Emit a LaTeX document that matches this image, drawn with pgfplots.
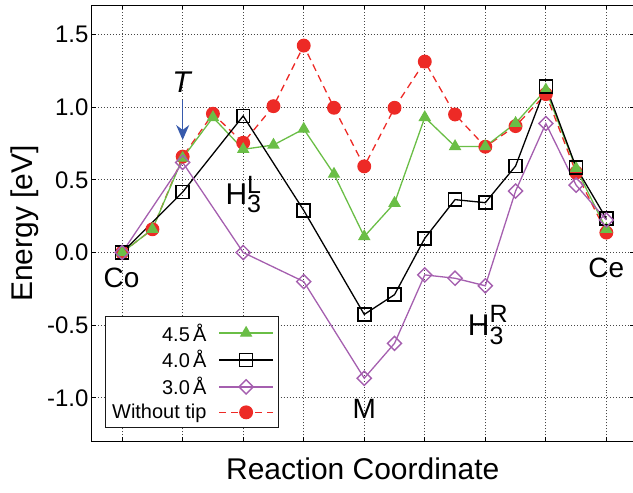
\documentclass[border=0pt]{standalone}
\usepackage{pgfplots}
\pgfplotsset{compat=1.18}
\usepackage{fontspec}
\setmainfont{Liberation Sans}
\usetikzlibrary{arrows.meta}
\definecolor{cgreen}{RGB}{106,190,70}
\definecolor{cred}{RGB}{237,42,38}
\definecolor{cpurple}{RGB}{165,95,175}
\definecolor{cblue}{RGB}{55,90,172}
\definecolor{cgrid}{RGB}{70,70,70}
\newcommand{\Hlab}[2]{H\makebox[0pt][l]{\raisebox{#2}{\fontsize{25}{25}\selectfont #1}}\raisebox{-8.3pt}{\fontsize{25}{25}\selectfont 3}}
\begin{document}
\begin{tikzpicture}
\begin{axis}[
  scale only axis, width=542.4pt, height=436.5pt,
  xmin=-0.5, xmax=8.45, ymin=-1.3, ymax=1.7,
  xtick={0,1,2,3,4,5,6,7,8}, xticklabels={},
  ytick={-1,-0.5,0,0.5,1,1.5}, yticklabels={-1.0,-0.5,0.0,0.5,1.0,1.5},
  tick align=inside, major tick length=4pt,
  grid=major, grid style={cgrid, line width=0.8pt, dash pattern=on 1pt off 2pt},
  axis line style={line width=1.2pt},
  tick style={black, line width=0.8pt},
  ticklabel style={font=\fontsize{24}{28}\selectfont},
  label style={font=\fontsize{30}{34}\selectfont},
  xlabel={Reaction Coordinate},
  ylabel={Energy [eV]},
  xlabel style={at={(axis description cs:0.5,-0.062)}, anchor=center},
  ylabel style={at={(axis description cs:-0.1235,0.5)}, anchor=center},
  legend style={at={(axis description cs:0.0234,0.031)}, anchor=south west,
    draw=black!90, line width=1.2pt, font=\fontsize{20}{22}\selectfont,
    row sep=4pt, column sep=10pt, inner sep=5pt},
  legend cell align=right, legend plot pos=right,
  legend image code/.code={\draw[mark repeat=2,mark phase=2] plot coordinates {(0pt,0pt) (27pt,0pt) (54pt,0pt)};},
]
% Without tip (drawn first, below the others)
\addplot[cred, line width=1.3pt, dash pattern=on 7pt off 5pt, mark=*, mark size=6.3pt, mark options={solid}, forget plot] coordinates {
(0,0.00) (0.5,0.16) (1,0.66) (1.5,0.955) (2,0.755) (2.5,1.007) (3,1.424) (3.5,0.996) (4,0.593) (4.5,0.996) (5,1.314) (5.5,0.95) (6,0.728) (6.5,0.87) (7,1.09) (7.5,0.55) (8,0.137)
};
% 4.5 A
\addplot[cgreen, line width=1.3pt, mark=triangle*, mark size=6pt] coordinates {
(0,0.00) (0.5,0.16) (1,0.65) (1.5,0.93) (2,0.71) (2.5,0.74) (3,0.85) (3.5,0.54) (4,0.11) (4.5,0.34) (5,0.93) (5.5,0.73) (6,0.73) (6.5,0.89) (7,1.12) (7.5,0.58) (8,0.16)
};
\addlegendentry{4.5\,Å}
% 4.0 A
\addplot[black, line width=1.3pt, mark=square, mark size=6.5pt, mark options={line width=1.6pt}] coordinates {
(0,0.00) (1,0.416) (2,0.94) (3,0.29) (4,-0.426) (4.5,-0.29) (5,0.098) (5.5,0.364) (6,0.343) (6.5,0.595) (7,1.144) (7.5,0.586) (8,0.233)
};
\addlegendentry{4.0\,Å}
% 3.0 A
\addplot[cpurple, line width=1.3pt, mark=square, mark size=5pt, mark options={rotate=45, line width=1.4pt}] coordinates {
(0,0.00) (1,0.62) (2,0.0) (3,-0.2) (4,-0.865) (4.5,-0.625) (5,-0.154) (5.5,-0.177) (6,-0.229) (6.5,0.423) (7,0.888) (7.5,0.464) (8,0.224)
};
\addlegendentry{3.0\,Å}
\addlegendimage{cred, line width=1.3pt, dash pattern=on 7pt off 5pt, mark=*, mark size=6.3pt, mark options={solid}}
\addlegendentry{Without tip}
% annotations
\node[anchor=base, font=\fontsize{30}{34}\selectfont\itshape] at (axis cs:0.98,1.099) {T};
\draw[cblue, line width=1.6pt, -{Stealth[length=15pt,width=13pt]}] (axis cs:1,1.053) -- (axis cs:1,0.774);
\node[anchor=base west, inner sep=0pt, font=\fontsize{30}{34}\selectfont] at (axis cs:1.705,0.332) {\Hlab{L}{11pt}};
\node[anchor=base west, inner sep=0pt, font=\fontsize{30}{34}\selectfont] at (axis cs:5.71,-0.573) {\Hlab{R}{13pt}};
\node[anchor=base, inner sep=0pt, font=\fontsize{28}{32}\selectfont] at (axis cs:-0.01,-0.24) {Co};
\node[anchor=base, inner sep=0pt, font=\fontsize{28}{32}\selectfont] at (axis cs:8.0,-0.172) {Ce};
\node[anchor=base, inner sep=0pt, font=\fontsize{28}{32}\selectfont] at (axis cs:4.0,-1.145) {M};
\end{axis}
\pgfresetboundingbox
\path[use as bounding box] ([xshift=-92pt,yshift=-51pt]current axis.south west) rectangle ([xshift=-0.6pt,yshift=5.5pt]current axis.north east);
\end{tikzpicture}
\end{document}
